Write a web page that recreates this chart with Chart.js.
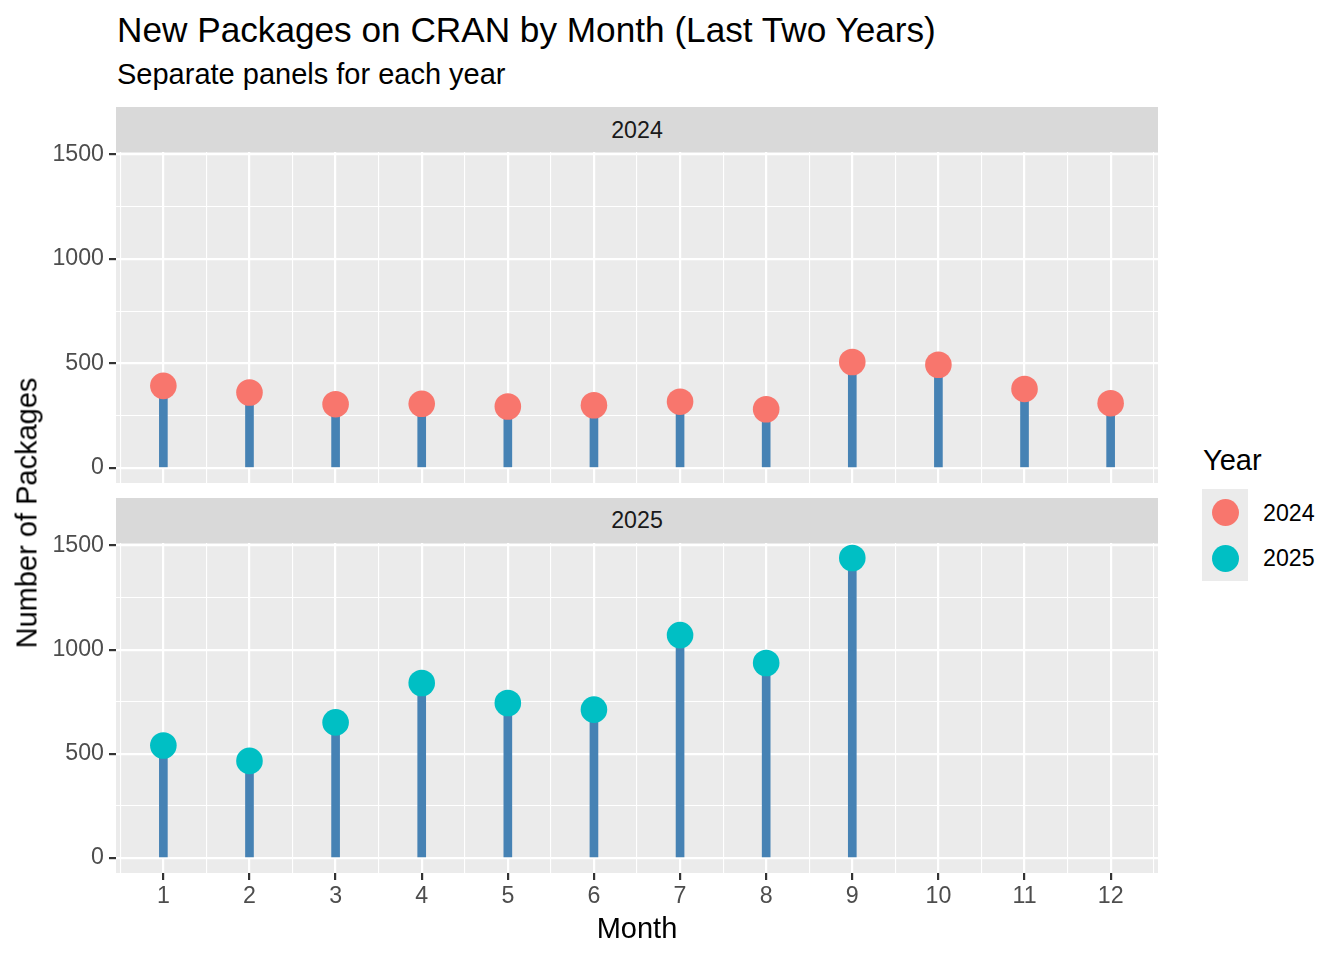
<!DOCTYPE html>
<html>
<head>
<meta charset="utf-8">
<script src="https://cdn.jsdelivr.net/npm/chart.js@4.4.1/dist/chart.umd.min.js"></script>
<style>
    body { margin: 0; background: #fff; font-family: 'Liberation Sans', Arial, sans-serif; }
    #fig { position: relative; width: 1344px; height: 960px; overflow: hidden; }
    .txt { position: absolute; white-space: nowrap; line-height: 1; color: #000; }
    .strip { position: absolute; left: 116px; width: 1042px; background: #D9D9D9; color: #1A1A1A;
             font-size: 23.2px; display: flex; align-items: center; justify-content: center; }
    .wrap { position: absolute; left: 0; width: 1180px; }
    .key { position: absolute; width: 27px; height: 27px; border-radius: 50%; }
</style>
</head>
<body>
<div id="fig">
    <div class="txt" style="left:117px; top:11.5px; font-size:35.2px;">New Packages on CRAN by Month (Last Two Years)</div>
    <div class="txt" style="left:117px; top:59.5px; font-size:29px;">Separate panels for each year</div>

    <div class="strip" style="top:107px; height:46px;">2024</div>
    <div class="strip" style="top:498px; height:45px;">2025</div>

    <!-- canvases stick out 25px above (and below for the top panel) so tick labels never push the plot area -->
    <div class="wrap" style="top:128px; height:380px;"><canvas id="panel2024"></canvas></div>
    <div class="wrap" style="top:519px; height:441px;"><canvas id="panel2025"></canvas></div>

    <div class="txt" style="left:27px; top:513px; font-size:29px; transform: translate(-50%, -50%) rotate(-90deg);">Number of Packages</div>
    <div class="txt" style="left:637px; top:914px; font-size:29px; transform: translateX(-50%);">Month</div>

    <!-- legend -->
    <div class="txt" style="left:1203px; top:445.5px; font-size:29px;">Year</div>
    <div style="position:absolute; left:1202px; top:489px; width:46px; height:92px; background:#EBEBEB;"></div>
    <div class="key" style="left:1211.5px; top:498.5px; background:#F8766D;"></div>
    <div class="key" style="left:1211.5px; top:544.5px; background:#00BFC4;"></div>
    <div class="txt" style="left:1263px; top:501.5px; font-size:23.2px;">2024</div>
    <div class="txt" style="left:1263px; top:547px; font-size:23.2px;">2025</div>
</div>

<script>
// Data
const months = [1, 2, 3, 4, 5, 6, 7, 8, 9, 10, 11, 12];
const pkgs2024 = [393, 361, 305, 307, 294, 300, 317, 281, 507, 494, 378, 310];
const pkgs2025 = [540, 466, 651, 840, 744, 712, 1070, 936, 1440];
const yTicks = [0, 250, 500, 750, 1000, 1250, 1500];
const yMin = -72;
const yMax = 1512;

const COLOR_2024 = '#F8766D';
const COLOR_2025 = '#00BFC4';
const STEM = '#4682B4';

Chart.defaults.font.family = "'Liberation Sans', Arial, sans-serif";

// x grid: integer months are major, half steps are minor
const xTicks = [months[0] - 0.5].concat(months.flatMap(m => [m, m + 0.5]));

const isMajorX = c => !!c.tick && Number.isInteger(c.tick.value);
const isMajorY = c => !!c.tick && c.tick.value % 500 === 0;

// grey panel background
const panelBg = {
    id: 'panelBg',
    beforeDraw(chart) {
        const a = chart.chartArea;
        const ctx = chart.ctx;
        ctx.save();
        ctx.fillStyle = '#EBEBEB';
        ctx.fillRect(a.left, a.top, a.right - a.left, a.bottom - a.top);
        ctx.restore();
    }
};

function makePanel(canvasId, values, color, showX) {
    const ctx = document.getElementById(canvasId).getContext('2d');
    const pts = values.map((v, i) => ({ x: months[i], y: v }));

    return new Chart(ctx, {
        type: 'bar',
        data: {
            datasets: [
                {
                    type: 'line',
                    data: pts,
                    showLine: false,
                    pointRadius: 13.3,
                    pointBackgroundColor: color,
                    pointBorderWidth: 0,
                    order: 0
                },
                {
                    type: 'bar',
                    data: pts,
                    backgroundColor: STEM,
                    barThickness: 8,
                    order: 1
                }
            ]
        },
        options: {
            responsive: true,
            maintainAspectRatio: false,
            animation: false,
            events: [],
            layout: { padding: { top: 24, bottom: showX ? 0 : 25, left: 0, right: 22 } },
            plugins: { legend: { display: false }, tooltip: { enabled: false } },
            scales: {
                x: {
                    type: 'linear',
                    min: 0.45,
                    max: 12.55,
                    offset: false,
                    afterBuildTicks: axis => { axis.ticks = xTicks.map(v => ({ value: v })); },
                    afterFit: axis => { axis.height = showX ? 87 : 0; },
                    border: { display: false },
                    grid: {
                        offset: false,
                        color: '#FFFFFF',
                        lineWidth: c => isMajorX(c) ? 2.2 : 1.1,
                        drawTicks: showX,
                        tickLength: 7,
                        tickWidth: 2.2,
                        tickColor: c => isMajorX(c) ? '#333333' : 'rgba(0,0,0,0)'
                    },
                    ticks: {
                        display: showX,
                        autoSkip: false,
                        maxRotation: 0,
                        padding: 3,
                        color: '#4D4D4D',
                        font: { size: 23.2 },
                        callback: v => Number.isInteger(v) ? String(v) : ''
                    }
                },
                y: {
                    min: yMin,
                    max: yMax,
                    afterBuildTicks: axis => { axis.ticks = yTicks.map(v => ({ value: v })); },
                    afterFit: axis => { axis.width = 116; },
                    border: { display: false },
                    grid: {
                        color: '#FFFFFF',
                        lineWidth: c => isMajorY(c) ? 2.2 : 1.1,
                        tickLength: 7,
                        tickWidth: 2.2,
                        tickColor: c => isMajorY(c) ? '#333333' : 'rgba(0,0,0,0)'
                    },
                    ticks: {
                        padding: 5,
                        color: '#4D4D4D',
                        font: { size: 23.2 },
                        callback: v => v % 500 === 0 ? String(v) : ''
                    }
                }
            }
        },
        plugins: [panelBg]
    });
}

makePanel('panel2024', pkgs2024, COLOR_2024, false);
makePanel('panel2025', pkgs2025, COLOR_2025, true);
</script>
</body>
</html>
